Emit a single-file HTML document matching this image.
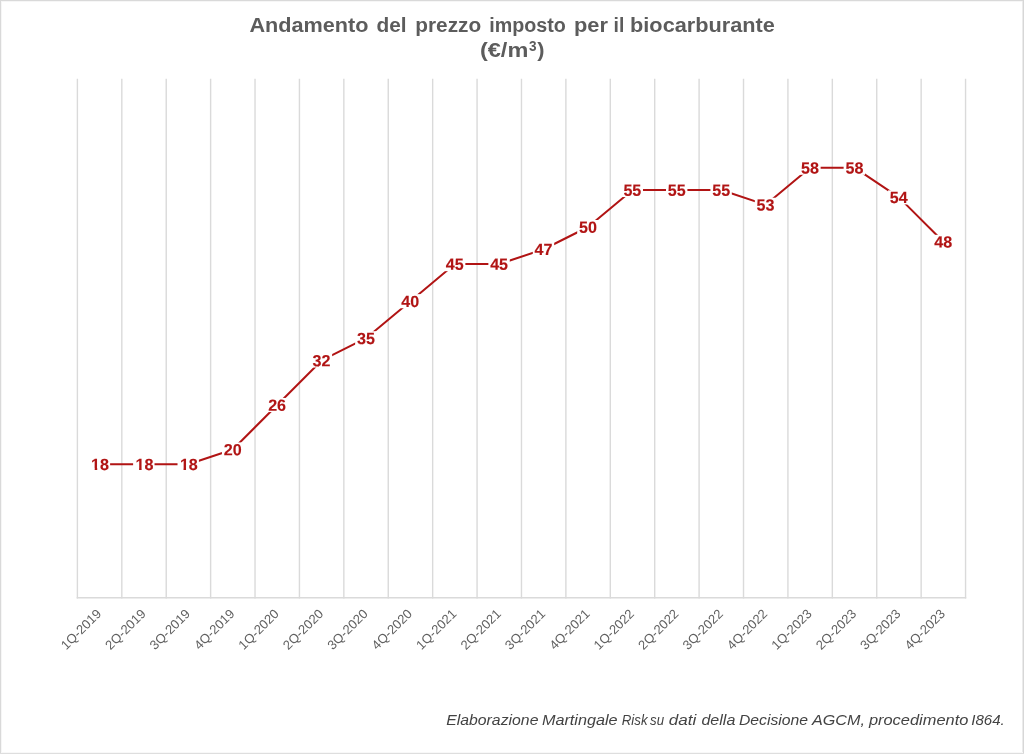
<!DOCTYPE html>
<html lang="it"><head><meta charset="utf-8"><title>Andamento del prezzo imposto per il biocarburante</title>
<style>
html,body{margin:0;padding:0;background:#fff;}
body{width:1024px;height:754px;overflow:hidden;}
svg{display:block;font-family:"Liberation Sans",sans-serif;}
.t{font-weight:bold;fill:#5c5c5c;font-size:20.5px;}
.t3{font-weight:bold;fill:#5c5c5c;font-size:14px;}
.c{fill:#606060;font-size:13px;text-anchor:end;}
.d{fill:#B11414;font-weight:bold;font-size:16.1px;text-anchor:middle;}
.d{stroke:#B11414;stroke-width:0.12px;}
.f{fill:#434343;font-style:italic;font-size:14px;}
</style></head><body>
<svg width="1024" height="754" viewBox="0 0 1024 754">
<rect x="0" y="0" width="1024" height="754" fill="#fff"/>
<g shape-rendering="crispEdges"><rect x="0" y="1" width="1024" height="1" fill="#F6F6F6"/><rect x="1" y="0" width="1" height="754" fill="#F6F6F6"/><rect x="1022" y="0" width="1" height="754" fill="#EBEBEB"/><rect x="0" y="752" width="1024" height="1" fill="#F8F8F8"/><rect x="0" y="0" width="1024" height="1" fill="#D9D9D9"/><rect x="0" y="0" width="1" height="754" fill="#D9D9D9"/><rect x="1023" y="0" width="1" height="754" fill="#D7D7D7"/><rect x="0" y="753" width="1024" height="1" fill="#DEDEDE"/></g>
<text class="t" transform="translate(249.47 32.2) scale(1.0561 1)">Andamento</text>
<text class="t" transform="translate(376.49 32.2) scale(1.0182 1)">del</text>
<text class="t" transform="translate(415.23 32.2) scale(1.0159 1)">prezzo</text>
<text class="t" transform="translate(489.31 32.2) scale(0.9613 1)">imposto</text>
<text class="t" transform="translate(573.92 32.2) scale(1.0656 1)">per</text>
<text class="t" transform="translate(613.54 32.2) scale(0.9500 1)">il</text>
<text class="t" transform="translate(630.07 32.2) scale(1.0601 1)">biocarburante</text>
<text class="t" transform="translate(479.95 57.3) scale(1.1475 1)">(€/m</text>
<text class="t3" transform="translate(528.96 51.2) scale(0.9714 1)">3</text>
<text class="t" transform="translate(537.30 57.3) scale(1.0609 1)">)</text>
<path d="M77.40 78.72V598.40M121.81 78.72V598.40M166.22 78.72V598.40M210.62 78.72V598.40M255.03 78.72V598.40M299.44 78.72V598.40M343.85 78.72V598.40M388.25 78.72V598.40M432.66 78.72V598.40M477.07 78.72V598.40M521.48 78.72V598.40M565.88 78.72V598.40M610.29 78.72V598.40M654.70 78.72V598.40M699.10 78.72V598.40M743.51 78.72V598.40M787.92 78.72V598.40M832.33 78.72V598.40M876.74 78.72V598.40M921.14 78.72V598.40M965.55 78.72V598.40" stroke="#DADADA" stroke-width="1.4" fill="none"/>
<path d="M76.70 597.8H966.25" stroke="#DADADA" stroke-width="1.5" fill="none"/>
<polyline points="99.60,464.26 144.01,464.26 188.42,464.26 232.83,449.43 277.23,404.95 321.64,360.46 366.05,338.22 410.46,301.15 454.86,264.08 499.27,264.08 543.68,249.25 588.09,227.01 632.49,189.93 676.90,189.93 721.31,189.93 765.72,204.76 810.12,167.69 854.53,167.69 898.94,197.35 943.35,241.83" fill="none" stroke="#B11414" stroke-width="2" stroke-linejoin="round"/>
<rect x="88.70" y="457.26" width="21.4" height="14.1" fill="#fff"/><text class="d" transform="translate(100.05 470.01) rotate(0.03) scale(1.0 1)">18</text>
<path d="M91.11 468.12H94.71V472.21H91.11ZM97.22 468.12H100.41V472.21H97.22Z" fill="#fff"/>
<rect x="133.11" y="457.26" width="21.4" height="14.1" fill="#fff"/><text class="d" transform="translate(144.46 470.01) rotate(0.03) scale(1.0 1)">18</text>
<path d="M135.52 468.12H139.11V472.21H135.52ZM141.62 468.12H144.81V472.21H141.62Z" fill="#fff"/>
<rect x="177.52" y="457.26" width="21.4" height="14.1" fill="#fff"/><text class="d" transform="translate(188.87 470.01) rotate(0.03) scale(1.0 1)">18</text>
<path d="M179.93 468.12H183.52V472.21H179.93ZM186.03 468.12H189.22V472.21H186.03Z" fill="#fff"/>
<rect x="221.93" y="442.43" width="21.4" height="14.1" fill="#fff"/><text class="d" transform="translate(232.68 455.18) rotate(0.03) scale(1.0 1)">20</text>
<rect x="266.33" y="397.95" width="21.4" height="14.1" fill="#fff"/><text class="d" transform="translate(277.08 410.70) rotate(0.03) scale(1.0 1)">26</text>
<rect x="310.74" y="353.46" width="21.4" height="14.1" fill="#fff"/><text class="d" transform="translate(321.49 366.21) rotate(0.03) scale(1.0 1)">32</text>
<rect x="355.15" y="331.22" width="21.4" height="14.1" fill="#fff"/><text class="d" transform="translate(365.90 343.97) rotate(0.03) scale(1.0 1)">35</text>
<rect x="399.56" y="294.15" width="21.4" height="14.1" fill="#fff"/><text class="d" transform="translate(410.31 306.90) rotate(0.03) scale(1.0 1)">40</text>
<rect x="443.96" y="257.08" width="21.4" height="14.1" fill="#fff"/><text class="d" transform="translate(454.71 269.83) rotate(0.03) scale(1.0 1)">45</text>
<rect x="488.37" y="257.08" width="21.4" height="14.1" fill="#fff"/><text class="d" transform="translate(499.12 269.83) rotate(0.03) scale(1.0 1)">45</text>
<rect x="532.78" y="242.25" width="21.4" height="14.1" fill="#fff"/><text class="d" transform="translate(543.53 255.00) rotate(0.03) scale(1.0 1)">47</text>
<rect x="577.19" y="220.01" width="21.4" height="14.1" fill="#fff"/><text class="d" transform="translate(587.94 232.76) rotate(0.03) scale(1.0 1)">50</text>
<rect x="621.59" y="182.93" width="21.4" height="14.1" fill="#fff"/><text class="d" transform="translate(632.34 195.68) rotate(0.03) scale(1.0 1)">55</text>
<rect x="666.00" y="182.93" width="21.4" height="14.1" fill="#fff"/><text class="d" transform="translate(676.75 195.68) rotate(0.03) scale(1.0 1)">55</text>
<rect x="710.41" y="182.93" width="21.4" height="14.1" fill="#fff"/><text class="d" transform="translate(721.16 195.68) rotate(0.03) scale(1.0 1)">55</text>
<rect x="754.82" y="197.76" width="21.4" height="14.1" fill="#fff"/><text class="d" transform="translate(765.57 210.51) rotate(0.03) scale(1.0 1)">53</text>
<rect x="799.22" y="160.69" width="21.4" height="14.1" fill="#fff"/><text class="d" transform="translate(809.97 173.44) rotate(0.03) scale(1.0 1)">58</text>
<rect x="843.63" y="160.69" width="21.4" height="14.1" fill="#fff"/><text class="d" transform="translate(854.38 173.44) rotate(0.03) scale(1.0 1)">58</text>
<rect x="888.04" y="190.35" width="21.4" height="14.1" fill="#fff"/><text class="d" transform="translate(898.79 203.10) rotate(0.03) scale(1.0 1)">54</text>
<rect x="932.45" y="234.83" width="21.4" height="14.1" fill="#fff"/><text class="d" transform="translate(943.20 247.58) rotate(0.03) scale(1.0 1)">48</text>
<text class="c" transform="translate(102.10 614.6) rotate(-45) scale(1.0041 1)">1Q-2019</text>
<text class="c" transform="translate(146.51 614.6) rotate(-45) scale(1.0041 1)">2Q-2019</text>
<text class="c" transform="translate(190.92 614.6) rotate(-45) scale(1.0041 1)">3Q-2019</text>
<text class="c" transform="translate(235.33 614.6) rotate(-45) scale(1.0041 1)">4Q-2019</text>
<text class="c" transform="translate(279.73 614.6) rotate(-45) scale(1.0041 1)">1Q-2020</text>
<text class="c" transform="translate(324.14 614.6) rotate(-45) scale(1.0041 1)">2Q-2020</text>
<text class="c" transform="translate(368.55 614.6) rotate(-45) scale(1.0041 1)">3Q-2020</text>
<text class="c" transform="translate(412.96 614.6) rotate(-45) scale(1.0041 1)">4Q-2020</text>
<text class="c" transform="translate(457.36 614.6) rotate(-45) scale(1.0041 1)">1Q-2021</text>
<text class="c" transform="translate(501.77 614.6) rotate(-45) scale(1.0041 1)">2Q-2021</text>
<text class="c" transform="translate(546.18 614.6) rotate(-45) scale(1.0041 1)">3Q-2021</text>
<text class="c" transform="translate(590.59 614.6) rotate(-45) scale(1.0041 1)">4Q-2021</text>
<text class="c" transform="translate(634.99 614.6) rotate(-45) scale(1.0041 1)">1Q-2022</text>
<text class="c" transform="translate(679.40 614.6) rotate(-45) scale(1.0041 1)">2Q-2022</text>
<text class="c" transform="translate(723.81 614.6) rotate(-45) scale(1.0041 1)">3Q-2022</text>
<text class="c" transform="translate(768.22 614.6) rotate(-45) scale(1.0041 1)">4Q-2022</text>
<text class="c" transform="translate(812.62 614.6) rotate(-45) scale(1.0041 1)">1Q-2023</text>
<text class="c" transform="translate(857.03 614.6) rotate(-45) scale(1.0041 1)">2Q-2023</text>
<text class="c" transform="translate(901.44 614.6) rotate(-45) scale(1.0041 1)">3Q-2023</text>
<text class="c" transform="translate(945.85 614.6) rotate(-45) scale(1.0041 1)">4Q-2023</text>
<text class="f" transform="translate(446.18 725) scale(1.1300 1)">Elaborazione</text>
<text class="f" transform="translate(541.92 725) scale(1.1595 1)">Martingale</text>
<text class="f" transform="translate(621.72 725) scale(0.9505 1)">Risk</text>
<text class="f" transform="translate(649.99 725) scale(0.9500 1)">su</text>
<text class="f" transform="translate(668.69 725) scale(1.2200 1)">dati</text>
<text class="f" transform="translate(701.43 725) scale(1.1478 1)">della</text>
<text class="f" transform="translate(738.94 725) scale(1.1240 1)">Decisione</text>
<text class="f" transform="translate(811.96 725) scale(1.1533 1)">AGCM,</text>
<text class="f" transform="translate(868.89 725) scale(1.1729 1)">procedimento</text>
<text class="f" transform="translate(971.21 725) scale(1.0776 1)">I864.</text>
</svg></body></html>
